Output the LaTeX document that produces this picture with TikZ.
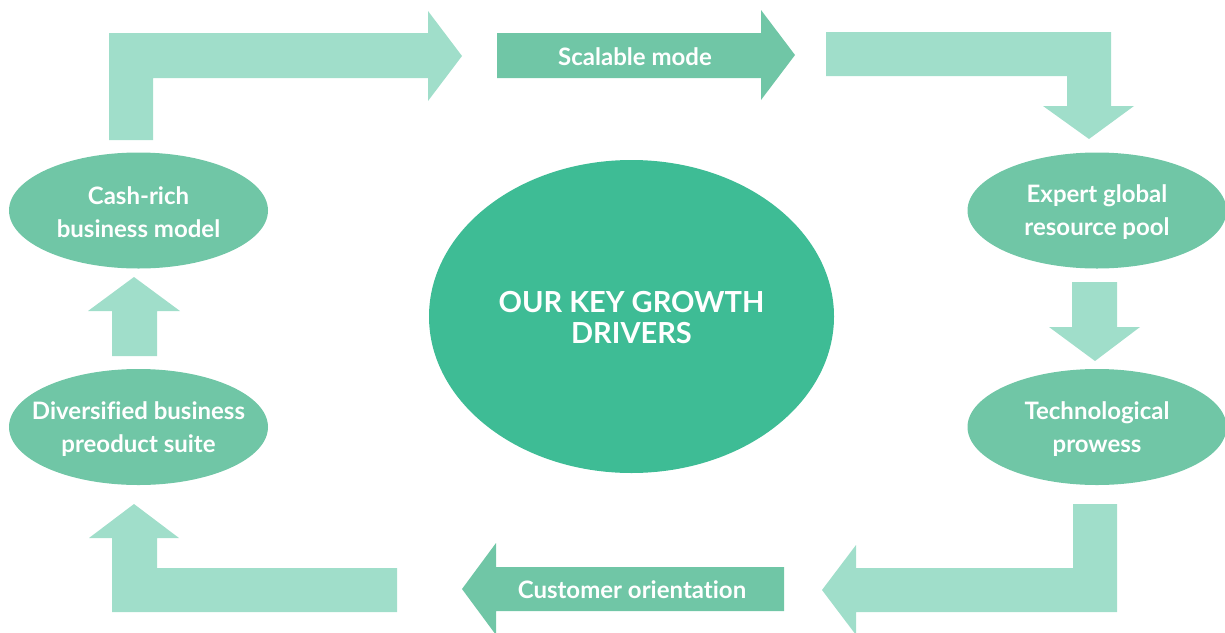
\documentclass[tikz,border=0pt]{standalone}
\usepackage{fontspec}
\setmainfont{Lato}[Ligatures={NoCommon}]
\usetikzlibrary{shapes.geometric}
\definecolor{lightg}{HTML}{A0DECA}
\definecolor{midg}{HTML}{70C6A6}
\definecolor{darkg}{HTML}{3EBC95}
\tikzset{
  barrow/.style={fill=lightg, draw=none},
  marrow/.style={fill=midg, draw=none},
  oval/.style={ellipse, fill=midg, draw=none, inner sep=0pt, minimum width=259pt, minimum height=116pt},
  lbl/.style={text=white, font=\bfseries\fontsize{24}{33}\selectfont, align=center, inner sep=0pt},
  biglbl/.style={text=white, font=\bfseries\fontsize{29}{31}\selectfont, align=center, inner sep=0pt}
}
\begin{document}
\begin{tikzpicture}[x=1pt,y=-1pt]
\useasboundingbox (0,0) rectangle (1225,632);
% bent arrow top-left
\fill[barrow] (109,140) -- (109,33) -- (428,33) -- (428,11) -- (462,56) -- (428,101) -- (428,78) -- (153,78) -- (153,140) -- cycle;
% scalable mode arrow
\fill[marrow] (497,33) -- (761,33) -- (761,10) -- (795,55) -- (761,100) -- (761,78) -- (497,78) -- cycle;
\node[lbl] (scal) at (635,57) {Scalable mode};
% top-right bent arrow
\fill[barrow] (826,32) -- (1111,32) -- (1111,106) -- (1134,106) -- (1089,139) -- (1043,106) -- (1067,106) -- (1067,76) -- (826,76) -- cycle;
% down arrow
\fill[barrow] (1072,282) -- (1117,282) -- (1117,327) -- (1140,327) -- (1095,361) -- (1049,327) -- (1072,327) -- cycle;
% bottom-right bent arrow
\fill[barrow] (1073,504) -- (1117,504) -- (1117,612) -- (856,612) -- (856,635) -- (822,590) -- (856,545) -- (856,568) -- (1073,568) -- cycle;
% customer orientation arrow
\fill[marrow] (784,567) -- (784,611) -- (496,611) -- (496,635) -- (462,589) -- (496,543) -- (496,567) -- cycle;
\node[lbl] (cust) at (632,590) {Customer orientation};
% bottom-left bent arrow
\fill[barrow] (397,568) -- (397,612) -- (112,612) -- (112,538) -- (89,538) -- (134,504) -- (179,538) -- (157,538) -- (157,568) -- cycle;
% up arrow
\fill[barrow] (112,356) -- (157,356) -- (157,311) -- (180,311) -- (134,277) -- (88,311) -- (112,311) -- cycle;
% ellipses
\node[oval] (cash) at (138.5,210.5) {};
\node[lbl] (cashtxt) at ([yshift=-2pt]cash.center) {Cash-rich\\business model};
\node[oval] (div) at (138.5,427) {};
\node[lbl] (divtxt) at ([yshift=-2pt]div.center) {Diversified business\\preoduct suite};
\node[oval] (exp) at (1097,210.5) {};
\node[lbl] (exptxt) at ([yshift=-2pt]exp.center) {Expert global\\resource pool};
\node[oval] (tech) at (1097,427) {};
\node[lbl] (techtxt) at ([yshift=-2pt]tech.center) {Technological\\prowess};
\node[ellipse, fill=darkg, draw=none, inner sep=0pt, minimum width=405pt, minimum height=313pt] (core) at (631.5,316.5) {};
\node[biglbl] (coretxt) at ([yshift=-1.5pt]core.center) {OUR KEY GROWTH\\DRIVERS};
\end{tikzpicture}
\end{document}
